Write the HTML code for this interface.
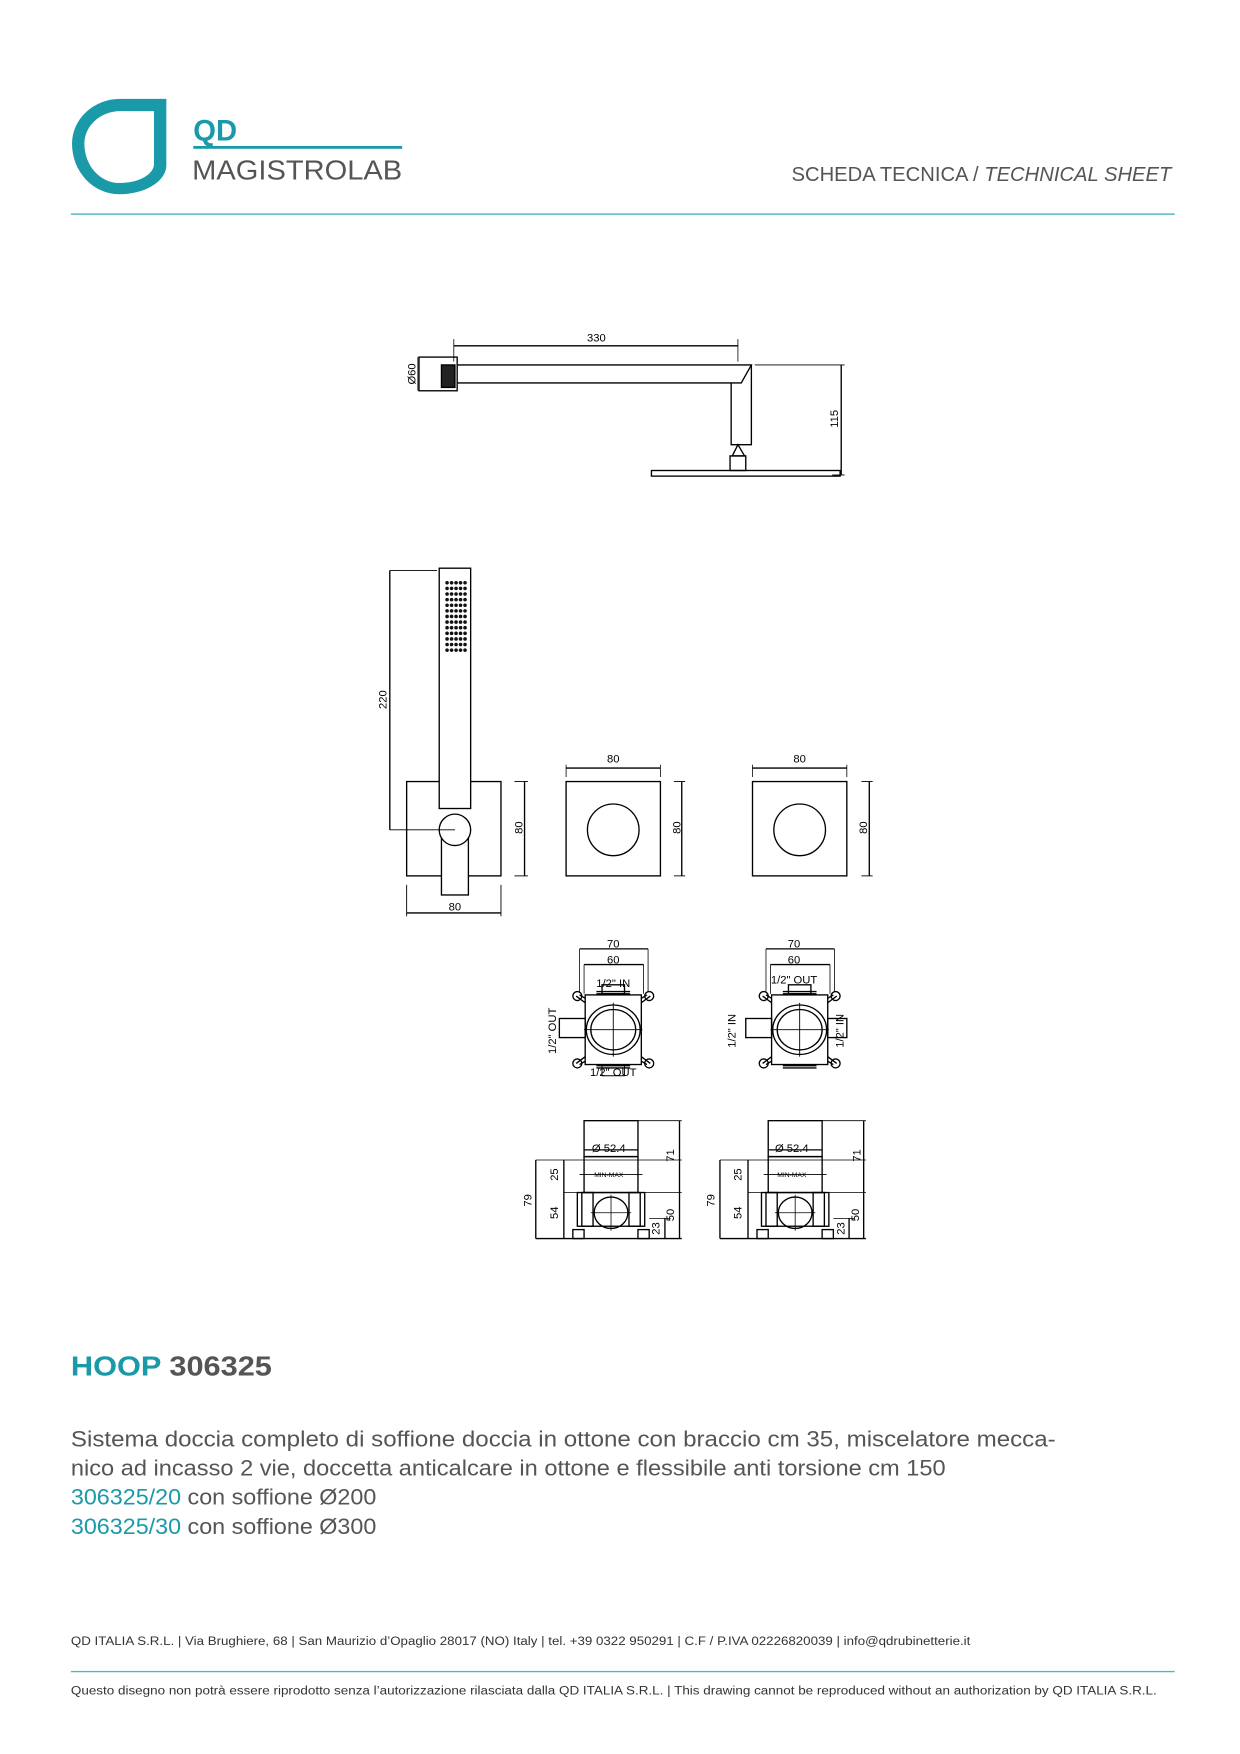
<!DOCTYPE html>
<html><head><meta charset="utf-8"><style>
html,body{margin:0;padding:0;background:#fff}
svg{display:block}
</style></head><body>
<svg width="1240" height="1754" viewBox="0 0 1104 1562" xmlns="http://www.w3.org/2000/svg" font-family="Liberation Sans, sans-serif">
<defs>
<g id="mixtop" fill="none" stroke="#000" stroke-width="1.2">
  <rect x="-25" y="-31" width="50" height="62"/>
  <ellipse cx="0" cy="0" rx="24" ry="22"/>
  <ellipse cx="0" cy="0" rx="20" ry="18"/>
  <line x1="0" y1="-24" x2="0" y2="24" stroke-width="0.8"/>
  <line x1="-26" y1="0" x2="26" y2="0" stroke-width="0.8"/>
  <path d="M-25,-24 L-33,-30 M-25,-28 L-30,-31 M25,-24 L33,-30 M25,-28 L30,-31 M-25,24 L-33,30 M-25,28 L-30,31 M25,24 L33,30 M25,28 L30,31"/>
  <circle cx="-32" cy="-30" r="4"/><circle cx="32" cy="-30" r="4"/>
  <circle cx="-32" cy="30" r="4"/><circle cx="32" cy="30" r="4"/>
  <path d="M-15,-32 H15 M15,-34 H-15"/>
  <path d="M-15,32 H15 M15,34 H-15"/>
  <line x1="-30" y1="-72" x2="31" y2="-72"/>
  <line x1="-30" y1="-72" x2="-30" y2="-34" stroke-width="0.7"/>
  <line x1="31" y1="-72" x2="31" y2="-34" stroke-width="0.7"/>
  <line x1="-26" y1="-58" x2="27" y2="-58"/>
  <line x1="-26" y1="-58" x2="-26" y2="-32" stroke-width="0.7"/>
  <line x1="27" y1="-58" x2="27" y2="-32" stroke-width="0.7"/>
</g>
<g id="mixside" fill="none" stroke="#000" stroke-width="1.2">
  <rect x="-22" y="0" width="48" height="32"/>
  <rect x="-22" y="32" width="48" height="32"/>
  <line x1="-26" y1="48" x2="30" y2="48" stroke-width="0.8"/>
  <rect x="-28" y="64" width="60" height="30"/>
  <ellipse cx="2" cy="82" rx="15" ry="14"/>
  <line x1="2" y1="66" x2="2" y2="98" stroke-width="0.7"/>
  <line x1="-16" y1="82" x2="20" y2="82" stroke-width="0.7"/>
  <rect x="-24" y="64" width="10" height="30"/><rect x="18" y="64" width="10" height="30"/>
  <rect x="-32" y="97" width="10" height="8"/><rect x="26" y="97" width="10" height="8"/>
  <line x1="-65" y1="105" x2="65" y2="105"/>
  <line x1="-65" y1="35" x2="65" y2="35" stroke-width="0.7"/>
  <line x1="-40" y1="64" x2="65" y2="64" stroke-width="0.7"/>
  <line x1="26" y1="0" x2="65" y2="0" stroke-width="0.7"/>
  <line x1="-65" y1="35" x2="-65" y2="105"/>
  <line x1="-40" y1="35" x2="-40" y2="105"/>
  <line x1="63" y1="0" x2="63" y2="105"/>
  <line x1="50" y1="87" x2="50" y2="105"/>
  <line x1="36" y1="87" x2="55" y2="87" stroke-width="0.7"/>
  <line x1="-22" y1="26" x2="26" y2="26"/>
</g>
</defs>

<!-- header -->
<path d="M148,88 V148 A42,26 0 0 1 106,173 A42,45 0 0 1 64,128 A43,40 0 0 1 107,88 Z M137,99 V146 A31,17 0 0 1 106,163 A31,35 0 0 1 75,128 A32,29 0 0 1 107,99 Z" fill="#1a9aa8" fill-rule="evenodd"/>
<text x="172" y="125" font-size="26" font-weight="bold" fill="#1a9aa8">QD</text>
<rect x="172" y="130" width="186" height="2.5" fill="#1a9aa8"/>
<text x="171" y="160" font-size="25" fill="#555" textLength="187" lengthAdjust="spacingAndGlyphs">MAGISTROLAB</text>
<text x="1043" y="161" font-size="18" fill="#555" text-anchor="end">SCHEDA TECNICA / <tspan font-style="italic">TECHNICAL SHEET</tspan></text>
<rect x="63" y="190" width="983" height="1.3" fill="#4bb8c4"/>

<g fill="none" stroke="#000" stroke-width="1.2">
<!-- top drawing -->
<rect x="373" y="318" width="34" height="30"/>
<rect x="393" y="325" width="12" height="20" fill="#222"/>
<path d="M407,325 H669 L660,341 H407"/>
<path d="M651,341 V396 H669 V325"/>
<path d="M652,406 L657,396 L663,406 Z"/>
<rect x="650" y="406" width="14" height="13"/>
<rect x="580" y="419" width="168" height="5"/>
<line x1="404" y1="308" x2="657" y2="308"/>
<line x1="404" y1="302" x2="404" y2="322" stroke-width="0.7"/>
<line x1="657" y1="302" x2="657" y2="322" stroke-width="0.7"/>
<line x1="672" y1="325" x2="752" y2="325" stroke-width="0.8"/>
<line x1="749" y1="325" x2="749" y2="423"/>
<line x1="741" y1="423" x2="752" y2="423" stroke-width="0.8"/>
<line x1="372" y1="318" x2="372" y2="348" stroke-width="0.7"/>

<!-- hand shower -->
<rect x="362" y="696" width="84" height="84"/>
<rect x="391" y="506" width="28" height="214" fill="#fff"/>
<rect x="393" y="739" width="24" height="58" fill="#fff"/>
<circle cx="405" cy="739" r="14" fill="#fff"/>
<line x1="347" y1="508" x2="389" y2="508" stroke-width="0.8"/>
<line x1="347" y1="508" x2="347" y2="739"/>
<line x1="347" y1="739" x2="405" y2="739" stroke-width="0.8"/>
<line x1="458" y1="696" x2="470" y2="696" stroke-width="0.8"/>
<line x1="458" y1="780" x2="470" y2="780" stroke-width="0.8"/>
<line x1="467" y1="696" x2="467" y2="780"/>
<line x1="362" y1="788" x2="362" y2="816" stroke-width="0.8"/>
<line x1="446" y1="788" x2="446" y2="816" stroke-width="0.8"/>
<line x1="362" y1="813" x2="446" y2="813"/>

<!-- plates -->
<rect x="504" y="696" width="84" height="84"/>
<circle cx="546" cy="739" r="23"/>
<line x1="504" y1="684" x2="588" y2="684"/>
<line x1="504" y1="681" x2="504" y2="692" stroke-width="0.7"/>
<line x1="588" y1="681" x2="588" y2="692" stroke-width="0.7"/>
<line x1="607" y1="696" x2="607" y2="780"/>
<line x1="600" y1="696" x2="610" y2="696" stroke-width="0.8"/>
<line x1="600" y1="780" x2="610" y2="780" stroke-width="0.8"/>

<rect x="670" y="696" width="84" height="84"/>
<circle cx="712" cy="739" r="23"/>
<line x1="670" y1="684" x2="754" y2="684"/>
<line x1="670" y1="681" x2="670" y2="692" stroke-width="0.7"/>
<line x1="754" y1="681" x2="754" y2="692" stroke-width="0.7"/>
<line x1="774" y1="696" x2="774" y2="780"/>
<line x1="767" y1="696" x2="777" y2="696" stroke-width="0.8"/>
<line x1="767" y1="780" x2="777" y2="780" stroke-width="0.8"/>

<!-- pipes for mixer tops -->
<rect x="536" y="877" width="20" height="8"/>
<rect x="498" y="907" width="23" height="17"/>
<path d="M536,948 V958 H556 V948" stroke-width="0.8"/>
<rect x="702" y="877" width="20" height="8"/>
<rect x="664" y="907" width="23" height="17"/>
<rect x="737" y="907" width="17" height="17"/>
</g>
<use href="#mixtop" x="546" y="917"/>
<use href="#mixtop" x="712" y="917"/>
<use href="#mixside" x="542" y="998"/>
<use href="#mixside" x="706" y="998"/>

<g font-size="10" fill="#000">
<text x="531" y="304" text-anchor="middle">330</text>
<text transform="translate(370,333) rotate(-90)" text-anchor="middle">Ø60</text>
<text transform="translate(746,373) rotate(-90)" text-anchor="middle">115</text>
<text transform="translate(344,623) rotate(-90)" text-anchor="middle">220</text>
<text transform="translate(465,737) rotate(-90)" text-anchor="middle">80</text>
<text x="405" y="811" text-anchor="middle">80</text>
<text x="546" y="679" text-anchor="middle">80</text>
<text transform="translate(606,737) rotate(-90)" text-anchor="middle">80</text>
<text x="712" y="679" text-anchor="middle">80</text>
<text transform="translate(772,737) rotate(-90)" text-anchor="middle">80</text>
<text x="546" y="844" text-anchor="middle">70</text>
<text x="546" y="858" text-anchor="middle">60</text>
<text x="546" y="879" text-anchor="middle">1/2" IN</text>
<text x="546" y="958" text-anchor="middle">1/2" OUT</text>
<text transform="translate(495,918) rotate(-90)" text-anchor="middle">1/2" OUT</text>
<text x="707" y="844" text-anchor="middle">70</text>
<text x="707" y="858" text-anchor="middle">60</text>
<text x="707" y="876" text-anchor="middle">1/2" OUT</text>
<text transform="translate(655,918) rotate(-90)" text-anchor="middle">1/2" IN</text>
<text transform="translate(751,918) rotate(-90)" text-anchor="middle">1/2" IN</text>
<text x="542" y="1026" text-anchor="middle">Ø 52.4</text>
<text x="705" y="1026" text-anchor="middle">Ø 52.4</text>
<text transform="translate(600,1029) rotate(-90)" text-anchor="middle">71</text>
<text transform="translate(766,1029) rotate(-90)" text-anchor="middle">71</text>
<text transform="translate(497,1046) rotate(-90)" text-anchor="middle">25</text>
<text transform="translate(660,1046) rotate(-90)" text-anchor="middle">25</text>
<text transform="translate(497,1080) rotate(-90)" text-anchor="middle">54</text>
<text transform="translate(660,1080) rotate(-90)" text-anchor="middle">54</text>
<text transform="translate(473,1069) rotate(-90)" text-anchor="middle">79</text>
<text transform="translate(636,1069) rotate(-90)" text-anchor="middle">79</text>
<text transform="translate(600,1082) rotate(-90)" text-anchor="middle">50</text>
<text transform="translate(765,1082) rotate(-90)" text-anchor="middle">50</text>
<text transform="translate(587,1094) rotate(-90)" text-anchor="middle">23</text>
<text transform="translate(752,1094) rotate(-90)" text-anchor="middle">23</text>
<text x="542" y="1048" text-anchor="middle" font-size="6">MIN-MAX</text>
<text x="705" y="1048" text-anchor="middle" font-size="6">MIN-MAX</text>
</g>

<g fill="#111" id="d">
<circle cx="398" cy="519" r="1.6"/><circle cx="402" cy="519" r="1.6"/><circle cx="406" cy="519" r="1.6"/><circle cx="410" cy="519" r="1.6"/><circle cx="414" cy="519" r="1.6"/>
</g>
<use href="#d" y="5"/><use href="#d" y="10"/><use href="#d" y="15"/><use href="#d" y="20"/><use href="#d" y="25"/><use href="#d" y="30"/><use href="#d" y="35"/><use href="#d" y="40"/><use href="#d" y="45"/><use href="#d" y="50"/><use href="#d" y="55"/><use href="#d" y="60"/>

<!-- text -->
<text x="63" y="1225" font-size="25" font-weight="bold" fill="#1a9aa8" textLength="179" lengthAdjust="spacingAndGlyphs">HOOP <tspan fill="#555">306325</tspan></text>
<g font-size="19.5" fill="#555">
<text x="63" y="1288" textLength="877" lengthAdjust="spacingAndGlyphs">Sistema doccia completo di soffione doccia in ottone con braccio cm 35, miscelatore mecca-</text>
<text x="63" y="1314" textLength="779" lengthAdjust="spacingAndGlyphs">nico ad incasso 2 vie, doccetta anticalcare in ottone e flessibile anti torsione cm 150</text>
<text x="63" y="1340" textLength="272" lengthAdjust="spacingAndGlyphs"><tspan fill="#1a9aa8">306325/20</tspan> con soffione Ø200</text>
<text x="63" y="1366" textLength="272" lengthAdjust="spacingAndGlyphs"><tspan fill="#1a9aa8">306325/30</tspan> con soffione Ø300</text>
</g>
<text x="63" y="1465" font-size="11" fill="#333" textLength="801" lengthAdjust="spacingAndGlyphs">QD ITALIA S.R.L. | Via Brughiere, 68 | San Maurizio d’Opaglio 28017 (NO) Italy | tel. +39 0322 950291 | C.F / P.IVA 02226820039 | info@qdrubinetterie.it</text>
<rect x="63" y="1488" width="983" height="1.2" fill="#4bb8c4"/>
<text x="63" y="1509" font-size="11" fill="#333" textLength="967" lengthAdjust="spacingAndGlyphs">Questo disegno non potrà essere riprodotto senza l’autorizzazione rilasciata dalla QD ITALIA S.R.L. | This drawing cannot be reproduced without an authorization by QD ITALIA S.R.L.</text>
</svg>
</body></html>
